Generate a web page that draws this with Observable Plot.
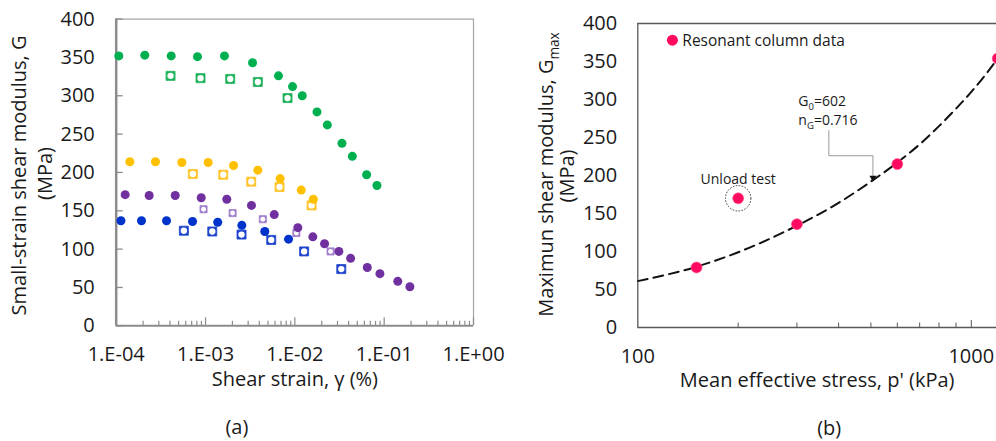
<!DOCTYPE html>
<html><head><meta charset="utf-8">
<script src="https://cdn.jsdelivr.net/npm/d3@7"></script>
<script src="https://cdn.jsdelivr.net/npm/@observablehq/plot@0.6"></script>
<style>
body{margin:0;background:#fff;}
#wrap{position:relative;width:996px;height:441px;overflow:hidden;font-family:"Open Sans",sans-serif;background:#fff;}
#a,#b{position:absolute;top:0;}
#a{left:0;z-index:2}#b{left:500px;z-index:1}
</style></head><body><div id="wrap"><div id="a"></div><div id="b"></div></div>
<script>
const FONT = '"Open Sans", sans-serif';

// ---------- panel (a) data ----------
const strainTicks = [1e-4, 1e-3, 1e-2, 1e-1, 1];
const strainTickLabels = ["1.E-04", "1.E-03", "1.E-02", "1.E-01", "1.E+00"];
const gTicks = [0, 50, 100, 150, 200, 250, 300, 350, 400];

const greenStrain = [1.07e-4, 2.09e-4, 4.13e-4, 8.13e-4, 1.63e-3, 3.36e-3, 6.56e-3, 9.42e-3, 1.21e-2, 1.77e-2, 2.31e-2, 3.37e-2, 4.40e-2, 6.36e-2, 8.30e-2];
const greenG      = [352, 353, 352, 351, 352, 343, 326, 312, 300, 279, 262, 238, 221, 197, 183];
const greenSqStrain = [4.06e-4, 8.79e-4, 1.89e-3, 3.85e-3, 8.28e-3];
const greenSqG      = [326, 323, 322, 318, 297];

const yellowStrain = [1.42e-4, 2.75e-4, 5.43e-4, 1.07e-3, 2.06e-3, 3.85e-3, 6.85e-3, 1.18e-2, 1.61e-2];
const yellowG      = [214, 214, 213, 213, 209, 203, 192, 177, 165];
const yellowSqStrain = [7.21e-4, 1.58e-3, 3.25e-3, 6.74e-3, 1.54e-2];
const yellowSqG      = [198, 197, 188, 181, 157];

const purpleStrain = [1.26e-4, 2.34e-4, 4.58e-4, 8.95e-4, 1.73e-3, 3.27e-3, 5.88e-3, 1.08e-2, 1.59e-2, 2.15e-2, 3.11e-2, 4.21e-2, 6.47e-2, 8.96e-2, 1.42e-1, 1.94e-1];
const purpleG      = [171, 170, 170, 167, 165, 157, 145, 128, 116, 107, 97, 88, 76, 68, 58, 51];
const purpleSqStrain = [9.50e-4, 2.01e-3, 4.38e-3, 1.04e-2, 2.51e-2];
const purpleSqG      = [152, 147, 139, 121, 97];

const blueStrain = [1.13e-4, 1.92e-4, 3.66e-4, 7.15e-4, 1.37e-3, 2.55e-3, 4.61e-3, 8.50e-3];
const blueG      = [137, 137, 137, 136, 135, 131, 123, 113];
const blueSqStrain = [5.72e-4, 1.19e-3, 2.53e-3, 5.44e-3, 1.27e-2, 3.31e-2];
const blueSqG      = [124, 123, 119, 112, 97, 74];

// ---------- panel (b) data ----------
const pTicks = [100, 1000];
const pTickLabels = ["100", "1000"];
const pMinorTicks = [200, 300, 400, 500, 600, 700, 800, 900];
const gmaxTicks = [0, 50, 100, 150, 200, 250, 300, 350, 400];
const rcP    = [150, 200, 300, 600, 1200];
const rcGmax = [79, 170, 136, 215, 354];
const fitP    = [100, 150, 200, 300, 400, 500, 600, 700, 800, 900, 1000, 1100, 1200];
const fitGmax = [61, 80, 99, 134, 164, 192, 217, 241, 265, 288, 310, 332, 354];
const unloadP = [200], unloadG = [170];
const leaderP = [374, 374, 507, 507];
const leaderG = [259, 226, 226, 197];

function pts(xs, ys) { return xs.map((x, i) => ({x, y: ys[i]})); }
const minorStrain = [];
for (const d of [1e-4, 1e-3, 1e-2, 1e-1]) for (let m = 2; m <= 9; m++) minorStrain.push(+(d * m).toPrecision(3));

const circleSeries = [
  {x: greenStrain, y: greenG, color: "#00b050"},
  {x: yellowStrain, y: yellowG, color: "#ffc000"},
  {x: purpleStrain, y: purpleG, color: "#7030a0"},
  {x: blueStrain, y: blueG, color: "#0033cc"}
];
const squareSeries = [
  {x: greenSqStrain, y: greenSqG, color: "#21b35c", r: 5.1},
  {x: yellowSqStrain, y: yellowSqG, color: "#ffc42a", r: 5.1},
  {x: purpleSqStrain, y: purpleSqG, color: "#a07ccb", r: 4.0},
  {x: blueSqStrain, y: blueSqG, color: "#1f45cc", r: 5.1}
];

const axisGray = "#8c8c8c";
const labelOf = (ticks, labels) => d => { const i = ticks.findIndex(t => Math.abs(t - d) < 1e-12 * Math.max(1, Math.abs(t))); return i >= 0 ? labels[i] : ""; };

const marksA = [
  Plot.ruleY([400], {stroke: "#a6a6a6", strokeWidth: 1.2}),
  Plot.ruleX([1], {stroke: "#a6a6a6", strokeWidth: 1.2}),
  Plot.axisY({ticks: gTicks, tickSize: 7, dx: 7, stroke: axisGray, strokeWidth: 1.3, tickFormat: () => "", label: null}),
  Plot.axisY({ticks: gTicks, tickSize: 0, tickPadding: 21.4, fontSize: 20, label: null}),
  Plot.axisX({ticks: strainTicks, tickSize: 8, dy: -8, stroke: axisGray, strokeWidth: 1.2, tickFormat: () => "", label: null}),
  Plot.axisX({ticks: minorStrain, tickSize: 4.5, dy: -4.5, stroke: axisGray, strokeWidth: 1.2, tickFormat: () => "", label: null}),
  Plot.axisX({ticks: strainTicks, tickSize: 0, tickPadding: 20.5, fontSize: 20, tickFormat: labelOf(strainTicks, strainTickLabels), label: null}),
  Plot.ruleY([0], {stroke: axisGray, strokeWidth: 2}),
  Plot.ruleX([1e-4], {stroke: axisGray, strokeWidth: 2.5}),
];
for (const s of squareSeries) {
  const data = pts(s.x, s.y);
  marksA.push(Plot.dot(data, {x: "x", y: "y", symbol: "square", r: s.r, fill: s.color, stroke: s.color, strokeWidth: 0.8}));
  marksA.push(Plot.dot(data, {x: "x", y: "y", r: s.r * 0.62, fill: "white"}));
}
for (const s of circleSeries) {
  marksA.push(Plot.dot(pts(s.x, s.y), {x: "x", y: "y", r: 4.5, fill: s.color}));
}
marksA.push(
  Plot.text(["Shear strain, γ (%)"], {frameAnchor: "bottom", lineAnchor: "middle", textAnchor: "middle", dy: 53.5, fontSize: 20}),
  Plot.text(["(a)"], {frameAnchor: "bottom", lineAnchor: "middle", textAnchor: "middle", dx: -58, dy: 101.6, fontSize: 20}),
  Plot.text(["Small-strain shear modulus, G"], {frameAnchor: "left", textAnchor: "middle", lineAnchor: "middle", rotate: -90, dx: -97, dy: 3, fontSize: 20}),
  Plot.text(["(MPa)"], {frameAnchor: "left", textAnchor: "middle", lineAnchor: "middle", rotate: -90, dx: -71, dy: 1, fontSize: 20})
);

const chartA = Plot.plot({
  width: 520, height: 441,
  marginLeft: 115.7, marginRight: 47, marginTop: 18.6, marginBottom: 115.7,
  x: {type: "log", domain: [1e-4, 1]},
  y: {domain: [0, 400]},
  style: {fontFamily: FONT, fontSize: "20px", color: "#1a1a1a", background: "transparent", overflow: "visible"},
  marks: marksA
});

// ---------- panel (b) ----------
const frameDark = "#595959";
const chartB = Plot.plot({
  width: 496, height: 441,
  marginLeft: 137.3, marginRight: 0, marginTop: 23, marginBottom: 114,
  x: {type: "log", domain: [100, 1190]},
  y: {domain: [0, 400]},
  style: {fontFamily: FONT, fontSize: "20px", color: "#1a1a1a", background: "transparent", overflow: "visible"},
  marks: [
    Plot.ruleY([400], {stroke: frameDark, strokeWidth: 1.3}),
    Plot.axisY({ticks: gmaxTicks, tickSize: 0, tickPadding: 20.6, fontSize: 20, label: null}),
    Plot.axisX({ticks: pMinorTicks, tickSize: 4.5, dy: -4.5, stroke: frameDark, strokeWidth: 1, tickFormat: () => "", label: null}),
    Plot.axisX({ticks: [1000], tickSize: 7, dy: -7, stroke: frameDark, strokeWidth: 1, tickFormat: () => "", label: null}),
    Plot.axisX({ticks: pTicks, tickSize: 0, tickPadding: 21, fontSize: 20, tickFormat: labelOf(pTicks, pTickLabels), label: null}),
    Plot.ruleY([0], {stroke: frameDark, strokeWidth: 1.3}),
    Plot.ruleX([100], {stroke: frameDark, strokeWidth: 1.3}),
    Plot.line(pts(fitP, fitGmax), {x: "x", y: "y", stroke: "#111", strokeWidth: 2, strokeDasharray: "10,6", curve: "monotone-x", clip: true}),
    Plot.line(pts(leaderP, leaderG), {x: "x", y: "y", stroke: "#9a9a9a", strokeWidth: 1}),
    Plot.dot(pts([leaderP[3]], [leaderG[3]]), {x: "x", y: "y", symbol: "triangle", rotate: 180, r: 2.6, fill: "#111"}),
    Plot.dot(pts(unloadP, unloadG), {x: "x", y: "y", r: 12.7, stroke: "#333", strokeWidth: 1, strokeDasharray: "1.5,1.5", fill: "none"}),
    Plot.dot(pts(rcP, rcGmax), {x: "x", y: "y", r: 5.5, fill: "#ff0a60", stroke: "#ff5a8f", strokeWidth: 0.6}),
    Plot.dot(pts([127], [378]), {x: "x", y: "y", r: 5.5, fill: "#ff0a60"}),
    Plot.text([{x: 136, y: 377.5, t: "Resonant column data"}], {x: "x", y: "y", text: "t", textAnchor: "start", fontSize: 15.5}),
    Plot.text([{x: 200, y: 195, t: "Unload test"}], {x: "x", y: "y", text: "t", fontSize: 14}),
    Plot.text([{x: 303, y: 296.7, t: "G_{0}=602"}], {x: "x", y: "y", text: "t", textAnchor: "start", fontSize: 14}),
    Plot.text([{x: 303, y: 271.7, t: "n_{G}=0.716"}], {x: "x", y: "y", text: "t", textAnchor: "start", fontSize: 14}),
    Plot.text(["Mean effective stress, p' (kPa)"], {frameAnchor: "bottom", lineAnchor: "middle", textAnchor: "middle", dy: 53, fontSize: 20}),
    Plot.text(["(b)"], {frameAnchor: "bottom", lineAnchor: "middle", textAnchor: "middle", dx: 12, dy: 100.8, fontSize: 20}),
    Plot.text(["Maximun shear modulus, G_{max}"], {frameAnchor: "left", textAnchor: "middle", lineAnchor: "middle", rotate: -90, dx: -91, dy: -1, fontSize: 20}),
    Plot.text(["(MPa)"], {frameAnchor: "left", textAnchor: "middle", lineAnchor: "middle", rotate: -90, dx: -70.4, dy: 0.5, fontSize: 20})
  ]
});

document.getElementById("a").appendChild(chartA);
document.getElementById("b").appendChild(chartB);

function applySubs(root) {
  root.querySelectorAll("text, tspan").forEach(el => {
    if (el.querySelector("tspan")) return;
    const s = el.textContent;
    if (!s.includes("_{")) return;
    const fs = parseFloat(getComputedStyle(el).fontSize) || 16;
    const shift = fs * 0.28;
    el.textContent = "";
    let down = false;
    for (const p of s.split(/(_\{[^}]*\})/)) {
      if (!p) continue;
      const t = document.createElementNS("http://www.w3.org/2000/svg", "tspan");
      if (p.startsWith("_{")) {
        t.textContent = p.slice(2, -1);
        t.setAttribute("font-size", (fs * 0.68).toFixed(1));
        t.setAttribute("dy", shift.toFixed(1));
        down = true;
      } else {
        t.textContent = p;
        if (down) { t.setAttribute("dy", (-shift).toFixed(1)); down = false; }
      }
      el.appendChild(t);
    }
  });
}
applySubs(chartB);
</script>
</body></html>
